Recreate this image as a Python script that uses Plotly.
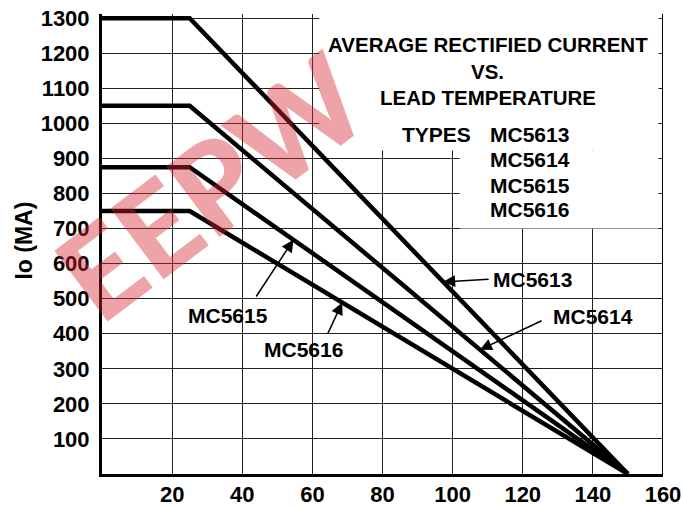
import numpy as np
import plotly.graph_objects as go

# ---- data ----
series_names = ["MC5613", "MC5614", "MC5615", "MC5616"]
lead_temp = [0, 25, 150]
io_mc5613 = [1300, 1300, 0]
io_mc5614 = [1050, 1050, 0]
io_mc5615 = [875, 875, 0]
io_mc5616 = [750, 750, 0]
x_ticks = [20, 40, 60, 80, 100, 120, 140, 160]
y_ticks = [100, 200, 300, 400, 500, 600, 700, 800, 900, 1000, 1100, 1200, 1300]
title_lines = ["AVERAGE RECTIFIED CURRENT", "VS.", "LEAD TEMPERATURE"]
type_list = ["MC5613", "MC5614", "MC5615", "MC5616"]

series = [io_mc5613, io_mc5614, io_mc5615, io_mc5616]

FONT = "Liberation Sans, Arial, Helvetica, sans-serif"
BOLD = dict(family=FONT, color="black", weight="bold")

W, H = 683, 507
PL, PR, PT, PB = 101.5, 663.0, 14.0, 474.0   # plot area in pixels

def px2paper(px, py):
    return (px - PL) / (PR - PL), (PB - py) / (PB - PT)

fig = go.Figure()
for name, vals in zip(series_names, series):
    fig.add_trace(go.Scatter(x=lead_temp, y=vals, mode="lines", name=name,
                             line=dict(color="black", width=4.5), showlegend=False))

# white area behind the title block (hides grid there)
for x0, x1, y0, y1 in [(62, 158.7, 923, 1320), (102, 158.7, 700, 923)]:
    fig.add_shape(type="rect", xref="x", yref="y", x0=x0, x1=x1, y0=y0, y1=y1,
                  fillcolor="white", line=dict(width=0), layer="between")

# right border
fig.add_shape(type="line", xref="x", yref="paper", x0=160, x1=160, y0=0, y1=1,
              line=dict(color="black", width=2))

def ann(text, x, y, size=21, xanchor="center", **kw):
    fig.add_annotation(text=text, x=x, y=y, xref="x", yref="y", showarrow=False,
                       xanchor=xanchor, yanchor="middle",
                       font=dict(size=size, **BOLD), **kw)

# title block
for line, yv in zip(title_lines, [1224, 1147, 1075]):
    ann(line, 110.0, yv, size=20.5)
ann("TYPES", 105.8, 967, xanchor="right")
for t, yv in zip(type_list, [967, 896, 824, 753]):
    ann(t, 110.1, yv, xanchor="left")

# curve labels with arrows
label_pos = {"MC5613": (122.7, 556), "MC5614": (140.0, 448),
             "MC5615": (35.8, 453), "MC5616": (57.4, 354)}
arrow_tail = {"MC5613": (110.7, 556), "MC5614": (125.8, 439),
              "MC5615": (43.7, 502), "MC5616": (64.2, 396)}
arrow_tip_x = {"MC5613": 97.3, "MC5614": 107.8, "MC5615": 54.6, "MC5616": 68.5}
for name, vals in zip(series_names, series):
    lx, ly = label_pos[name]
    ann(name, lx, ly)
    tx = arrow_tip_x[name]
    ty = float(np.interp(tx, lead_temp, vals))
    ax, ay = arrow_tail[name]
    fig.add_annotation(x=tx, y=ty, ax=ax, ay=ay, xref="x", yref="y", axref="x", ayref="y",
                       text="", showarrow=True, arrowhead=2, arrowsize=1.6,
                       arrowwidth=1.5, arrowcolor="black")

# y axis title
tx_, ty_ = px2paper(23, 241)
fig.add_annotation(text="Io (MA)", xref="paper", yref="paper", x=tx_, y=ty_,
                   xanchor="center", yanchor="middle", showarrow=False,
                   textangle=-90, font=dict(size=23, **BOLD))

# watermark (kept fully inside the picture)
wx, wy = px2paper(210, 185)
fig.add_annotation(text="EEPW", xref="paper", yref="paper", x=wx, y=wy,
                   xanchor="center", yanchor="middle", showarrow=False,
                   textangle=-37, font=dict(family="Lato, Liberation Sans, sans-serif",
                                            size=122, weight=900,
                                            color="rgba(215,35,50,0.42)"))

fig.update_layout(
    width=W, height=H,
    margin=dict(l=PL, r=W - PR, t=PT, b=H - PB),
    paper_bgcolor="white", plot_bgcolor="white",
    xaxis=dict(range=[0, 160], tickvals=x_ticks, ticktext=[str(v) for v in x_ticks],
               showgrid=True, gridcolor="#222", gridwidth=1.3, zeroline=False,
               showline=True, linecolor="black", linewidth=3, ticks="",
               automargin=False, ticklabeloverflow="allow",
               ticklabelstandoff=-1, tickfont=dict(size=22, **BOLD)),
    yaxis=dict(range=[0, 1312], tickvals=y_ticks, ticktext=[str(v) for v in y_ticks],
               showgrid=True, gridcolor="#222", gridwidth=1.3, zeroline=False,
               showline=True, linecolor="black", linewidth=3, ticks="",
               automargin=False, ticklabeloverflow="allow",
               ticklabelstandoff=5, tickfont=dict(size=22, **BOLD)),
)

fig.write_html("out.html", config={"displayModeBar": False},
               post_script="document.body.style.margin='0';document.body.style.overflow='hidden';")
